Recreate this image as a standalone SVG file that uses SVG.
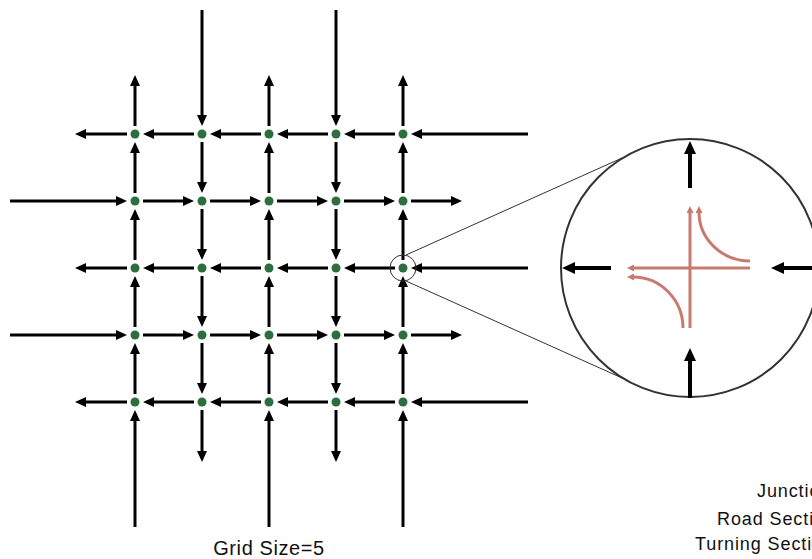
<svg xmlns="http://www.w3.org/2000/svg" width="812" height="559" viewBox="0 0 812 559">
<style>
.r{stroke:#000;stroke-width:3;fill:none;marker-end:url(#ah)}
.rb{stroke:#000;stroke-width:4;fill:none;marker-end:url(#ab)}
.t{stroke:#c97a70;stroke-width:3;fill:none;marker-end:url(#ap)}
.n{fill:#2d6e3e}
.lbl{font-family:"Liberation Sans",Arial,sans-serif;fill:#111}
</style>
<defs>
<marker id="ah" viewBox="0 0 11 10" refX="1" refY="5" markerWidth="11" markerHeight="10" markerUnits="userSpaceOnUse" orient="auto"><path d="M0,0 L11,5 L0,10 z" fill="#000"/></marker>
<marker id="ab" viewBox="0 0 13 12" refX="1" refY="6" markerWidth="13" markerHeight="12" markerUnits="userSpaceOnUse" orient="auto"><path d="M0,0 L13,6 L0,12 z" fill="#000"/></marker>
<marker id="ap" viewBox="0 0 7 7" refX="1" refY="3.5" markerWidth="7" markerHeight="7" markerUnits="userSpaceOnUse" orient="auto"><path d="M0,0 L7,3.5 L0,7 z" fill="#c97a70"/></marker>
</defs>
<rect width="812" height="559" fill="#fff"/>
<g id="connectors">
<g id="row0">
<line class="r" x1="528" y1="134" x2="421" y2="134"/>
<line class="r" x1="395" y1="134" x2="354" y2="134"/>
<line class="r" x1="328" y1="134" x2="287" y2="134"/>
<line class="r" x1="261" y1="134" x2="220" y2="134"/>
<line class="r" x1="194" y1="134" x2="153" y2="134"/>
<line class="r" x1="127" y1="134" x2="85" y2="134"/>
</g>
<g id="row2">
<line class="r" x1="528" y1="268" x2="421" y2="268"/>
<line class="r" x1="395" y1="268" x2="354" y2="268"/>
<line class="r" x1="328" y1="268" x2="287" y2="268"/>
<line class="r" x1="261" y1="268" x2="220" y2="268"/>
<line class="r" x1="194" y1="268" x2="153" y2="268"/>
<line class="r" x1="127" y1="268" x2="85" y2="268"/>
</g>
<g id="row4">
<line class="r" x1="528" y1="402" x2="421" y2="402"/>
<line class="r" x1="395" y1="402" x2="354" y2="402"/>
<line class="r" x1="328" y1="402" x2="287" y2="402"/>
<line class="r" x1="261" y1="402" x2="220" y2="402"/>
<line class="r" x1="194" y1="402" x2="153" y2="402"/>
<line class="r" x1="127" y1="402" x2="85" y2="402"/>
</g>
<g id="row1">
<line class="r" x1="10" y1="201" x2="117" y2="201"/>
<line class="r" x1="143" y1="201" x2="184" y2="201"/>
<line class="r" x1="210" y1="201" x2="251" y2="201"/>
<line class="r" x1="277" y1="201" x2="318" y2="201"/>
<line class="r" x1="344" y1="201" x2="385" y2="201"/>
<line class="r" x1="411" y1="201" x2="452" y2="201"/>
</g>
<g id="row3">
<line class="r" x1="10" y1="335" x2="117" y2="335"/>
<line class="r" x1="143" y1="335" x2="184" y2="335"/>
<line class="r" x1="210" y1="335" x2="251" y2="335"/>
<line class="r" x1="277" y1="335" x2="318" y2="335"/>
<line class="r" x1="344" y1="335" x2="385" y2="335"/>
<line class="r" x1="411" y1="335" x2="452" y2="335"/>
</g>
<g id="col0">
<line class="r" x1="135" y1="527" x2="135" y2="420"/>
<line class="r" x1="135" y1="394" x2="135" y2="353"/>
<line class="r" x1="135" y1="327" x2="135" y2="286"/>
<line class="r" x1="135" y1="260" x2="135" y2="219"/>
<line class="r" x1="135" y1="193" x2="135" y2="152"/>
<line class="r" x1="135" y1="126" x2="135" y2="85"/>
</g>
<g id="col2">
<line class="r" x1="269" y1="527" x2="269" y2="420"/>
<line class="r" x1="269" y1="394" x2="269" y2="353"/>
<line class="r" x1="269" y1="327" x2="269" y2="286"/>
<line class="r" x1="269" y1="260" x2="269" y2="219"/>
<line class="r" x1="269" y1="193" x2="269" y2="152"/>
<line class="r" x1="269" y1="126" x2="269" y2="85"/>
</g>
<g id="col4">
<line class="r" x1="403" y1="527" x2="403" y2="420"/>
<line class="r" x1="403" y1="394" x2="403" y2="353"/>
<line class="r" x1="403" y1="327" x2="403" y2="286"/>
<line class="r" x1="403" y1="260" x2="403" y2="219"/>
<line class="r" x1="403" y1="193" x2="403" y2="152"/>
<line class="r" x1="403" y1="126" x2="403" y2="85"/>
</g>
<g id="col1">
<line class="r" x1="202" y1="10" x2="202" y2="116"/>
<line class="r" x1="202" y1="142" x2="202" y2="183"/>
<line class="r" x1="202" y1="209" x2="202" y2="250"/>
<line class="r" x1="202" y1="276" x2="202" y2="317"/>
<line class="r" x1="202" y1="343" x2="202" y2="384"/>
<line class="r" x1="202" y1="410" x2="202" y2="452"/>
</g>
<g id="col3">
<line class="r" x1="336" y1="10" x2="336" y2="116"/>
<line class="r" x1="336" y1="142" x2="336" y2="183"/>
<line class="r" x1="336" y1="209" x2="336" y2="250"/>
<line class="r" x1="336" y1="276" x2="336" y2="317"/>
<line class="r" x1="336" y1="343" x2="336" y2="384"/>
<line class="r" x1="336" y1="410" x2="336" y2="452"/>
</g>
</g>
<g id="nodes">
<g id="j00"><circle class="n" cx="135" cy="134" r="4.5"/></g>
<g id="j01"><circle class="n" cx="202" cy="134" r="4.5"/></g>
<g id="j02"><circle class="n" cx="269" cy="134" r="4.5"/></g>
<g id="j03"><circle class="n" cx="336" cy="134" r="4.5"/></g>
<g id="j04"><circle class="n" cx="403" cy="134" r="4.5"/></g>
<g id="j10"><circle class="n" cx="135" cy="201" r="4.5"/></g>
<g id="j11"><circle class="n" cx="202" cy="201" r="4.5"/></g>
<g id="j12"><circle class="n" cx="269" cy="201" r="4.5"/></g>
<g id="j13"><circle class="n" cx="336" cy="201" r="4.5"/></g>
<g id="j14"><circle class="n" cx="403" cy="201" r="4.5"/></g>
<g id="j20"><circle class="n" cx="135" cy="268" r="4.5"/></g>
<g id="j21"><circle class="n" cx="202" cy="268" r="4.5"/></g>
<g id="j22"><circle class="n" cx="269" cy="268" r="4.5"/></g>
<g id="j23"><circle class="n" cx="336" cy="268" r="4.5"/></g>
<g id="j24"><circle class="n" cx="403" cy="268" r="4.5"/></g>
<g id="j30"><circle class="n" cx="135" cy="335" r="4.5"/></g>
<g id="j31"><circle class="n" cx="202" cy="335" r="4.5"/></g>
<g id="j32"><circle class="n" cx="269" cy="335" r="4.5"/></g>
<g id="j33"><circle class="n" cx="336" cy="335" r="4.5"/></g>
<g id="j34"><circle class="n" cx="403" cy="335" r="4.5"/></g>
<g id="j40"><circle class="n" cx="135" cy="402" r="4.5"/></g>
<g id="j41"><circle class="n" cx="202" cy="402" r="4.5"/></g>
<g id="j42"><circle class="n" cx="269" cy="402" r="4.5"/></g>
<g id="j43"><circle class="n" cx="336" cy="402" r="4.5"/></g>
<g id="j44"><circle class="n" cx="403" cy="402" r="4.5"/></g>
</g>
<g id="zoom">
<circle cx="403" cy="268" r="13" fill="none" stroke="#333" stroke-width="1"/>
<line x1="406" y1="255" x2="622" y2="158" stroke="#333" stroke-width="1"/>
<line x1="406" y1="281" x2="622" y2="378" stroke="#333" stroke-width="1"/>
<circle cx="690" cy="268" r="129" fill="none" stroke="#333" stroke-width="2"/>
<line class="rb" x1="690" y1="188" x2="690" y2="153"/>
<line class="rb" x1="611" y1="268" x2="574" y2="268"/>
<line class="rb" x1="818" y1="268" x2="783" y2="268"/>
<line class="rb" x1="690" y1="398" x2="690" y2="360"/>
<path class="t" d="M750,268 L633,268"/>
<path class="t" d="M690,328 L690,212"/>
<path class="t" d="M750,261 A51,49 0 0 1 699,212"/>
<path class="t" d="M683,328 A50,51 0 0 0 633,277"/>
</g>
<g id="labels">
<text class="lbl" x="269" y="555" font-size="20" text-anchor="middle" letter-spacing="0.6">Grid Size=5</text>
<text class="lbl" x="757" y="497" font-size="18" letter-spacing="0.9">Junction</text>
<text class="lbl" x="717" y="525" font-size="18" letter-spacing="0.9">Road Section</text>
<text class="lbl" x="695" y="550" font-size="18" letter-spacing="0.9">Turning Section</text>
</g>
</svg>
